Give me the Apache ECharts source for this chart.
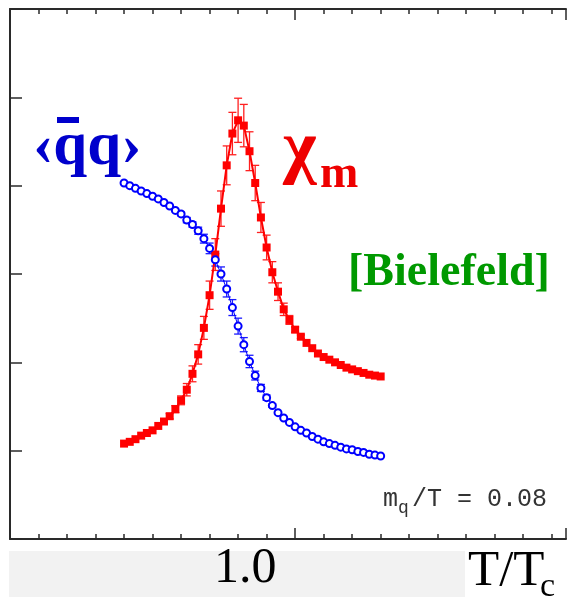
<!DOCTYPE html>
<html>
<head>
<meta charset="utf-8">
<script src="https://cdn.jsdelivr.net/npm/echarts@6/dist/echarts.min.js"></script>
<style>
  html, body { margin: 0; padding: 0; background: #fff; }
  #chart { width: 569px; height: 597px; }
</style>
</head>
<body>
<div id="chart"></div>
<script>
// T/Tc values of the measured points
var temps = [
  0.880, 0.884, 0.888, 0.892, 0.896, 0.900, 0.904, 0.908, 0.912, 0.916,
  0.920, 0.924, 0.928, 0.932, 0.936, 0.940, 0.944, 0.948, 0.952, 0.956,
  0.960, 0.964, 0.968, 0.972, 0.976, 0.980, 0.984, 0.988, 0.992, 0.996,
  1.000, 1.004, 1.008, 1.012, 1.016, 1.020, 1.024, 1.028, 1.032, 1.036,
  1.040, 1.044, 1.048, 1.052, 1.056, 1.060
];
// chiral susceptibility (red squares)
var chiM = [
  1.08, 1.10, 1.13, 1.17, 1.20, 1.23, 1.28, 1.33, 1.39, 1.47,
  1.57, 1.69, 1.87, 2.09, 2.39, 2.76, 3.22, 3.74, 4.23, 4.59,
  4.74, 4.68, 4.39, 4.03, 3.64, 3.30, 3.02, 2.80, 2.60, 2.48,
  2.37, 2.29, 2.22, 2.16, 2.10, 2.06, 2.03, 2.00, 1.97, 1.94,
  1.92, 1.90, 1.88, 1.86, 1.85, 1.84
];
var chiErr = [
  0, 0, 0, 0, 0, 0, 0, 0.02, 0.03, 0.04,
  0.05, 0.07, 0.09, 0.11, 0.13, 0.16, 0.18, 0.20, 0.22, 0.24,
  0.25, 0.24, 0.22, 0.20, 0.17, 0.14, 0.12, 0.10, 0.07, 0.05,
  0.03, 0.02, 0, 0, 0, 0, 0, 0, 0, 0,
  0, 0, 0, 0, 0, 0
];
// chiral condensate (blue circles)
var pbp = [
  4.03, 4.00, 3.97, 3.94, 3.91, 3.88, 3.85, 3.81, 3.77, 3.72,
  3.68, 3.61, 3.56, 3.49, 3.40, 3.29, 3.16, 3.00, 2.83, 2.62,
  2.41, 2.20, 2.01, 1.85, 1.71, 1.60, 1.51, 1.43, 1.37, 1.32,
  1.27, 1.23, 1.20, 1.16, 1.13, 1.10, 1.08, 1.06, 1.04, 1.02,
  1.01, 0.99, 0.98, 0.96, 0.95, 0.94
];
var pbpErr = [
  0, 0, 0, 0, 0, 0, 0, 0, 0, 0,
  0.02, 0.03, 0.03, 0.04, 0.05, 0.06, 0.07, 0.08, 0.09, 0.09,
  0.09, 0.08, 0.07, 0.05, 0.04, 0.03, 0.02, 0, 0, 0,
  0, 0, 0, 0, 0, 0, 0, 0, 0, 0,
  0, 0, 0, 0, 0, 0
];
var xLabels = [1.0];

function pts(vals) {
  return temps.map(function (t, i) { return [t, vals[i]]; });
}
function errPts(vals, errs) {
  return temps.map(function (t, i) { return [t, vals[i], errs[i]]; });
}
function errBars(color) {
  return function (params, api) {
    var e = api.value(2);
    if (!e) return;
    var x = api.value(0), y = api.value(1);
    var hi = api.coord([x, y + e]);
    var lo = api.coord([x, y - e]);
    var w = 4;
    var st = { stroke: color, lineWidth: 1.3 };
    return {
      type: 'group',
      children: [
        { type: 'line', shape: { x1: hi[0], y1: hi[1], x2: lo[0], y2: lo[1] }, style: st },
        { type: 'line', shape: { x1: hi[0] - w, y1: hi[1], x2: hi[0] + w, y2: hi[1] }, style: st },
        { type: 'line', shape: { x1: lo[0] - w, y1: lo[1], x2: lo[0] + w, y2: lo[1] }, style: st }
      ]
    };
  };
}

var axisLine = { show: true, onZero: false, lineStyle: { color: '#2a2a2a', width: 2 } };
var tickStyle = { color: '#2a2a2a', width: 1.5 };
var xMin = 0.8, xMax = 1.19;

// small ticks every 0.02, long ticks every 0.2 (separate overlaid axes)
function xAxisDef(pos, step, len, withLine, withLabel) {
  return {
    type: 'value', position: pos, min: xMin, max: xMax, interval: step,
    axisLine: withLine ? axisLine : { show: false, onZero: false },
    axisTick: { inside: true, length: len, lineStyle: tickStyle },
    splitLine: { show: false },
    axisLabel: withLabel ? {
      margin: 5,
      fontSize: 50,
      fontFamily: 'Liberation Serif',
      color: '#000',
      padding: [0, 100, 0, 0],
      formatter: function (v) {
        for (var k = 0; k < xLabels.length; k++) {
          if (Math.abs(v - xLabels[k]) < 1e-6) return xLabels[k].toFixed(1);
        }
        return '';
      }
    } : { show: false }
  };
}

var chart = echarts.init(document.getElementById('chart'));
chart.setOption({
  animation: false,
  backgroundColor: '#fff',
  grid: { left: 10, top: 9, right: 0, height: 530 },
  graphic: [
    { type: 'rect', z: -10, shape: { x: 9, y: 551, width: 456, height: 46 }, style: { fill: '#f2f2f2' } },
    { type: 'text', x: 33, y: 148, style: { text: '\u2039qq\u203a', font: 'bold 61px "Liberation Serif"', fill: '#0000cc', verticalAlign: 'middle' } },
    { type: 'rect', shape: { x: 57, y: 117, width: 22, height: 6 }, style: { fill: '#0000cc' } },
    { type: 'text', x: 283, y: 151, style: { text: '\u03c7', font: 'bold 72px "Liberation Serif"', fill: '#ee0000', verticalAlign: 'middle' } },
    { type: 'text', x: 320, y: 175, style: { text: 'm', font: 'bold 46px "Liberation Serif"', fill: '#ee0000', verticalAlign: 'middle' } },
    { type: 'text', x: 348, y: 273, style: { text: '[Bielefeld]', font: 'bold 46px "Liberation Serif"', fill: '#009900', verticalAlign: 'middle' } },
    { type: 'text', x: 383, y: 499, style: { text: 'm', font: '25px "Liberation Mono"', fill: '#333', verticalAlign: 'middle' } },
    { type: 'text', x: 398, y: 508, style: { text: 'q', font: '18px "Liberation Mono"', fill: '#333', verticalAlign: 'middle' } },
    { type: 'text', x: 412, y: 499, style: { text: '/T = 0.08', font: '25px "Liberation Mono"', fill: '#333', verticalAlign: 'middle' } },
    { type: 'text', x: 468, y: 572, style: { text: 'T/T', font: '51px "Liberation Serif"', fill: '#000', verticalAlign: 'middle' } },
    { type: 'text', x: 540, y: 587, style: { text: 'c', font: '34px "Liberation Serif"', fill: '#000', verticalAlign: 'middle' } }
  ],
  xAxis: [
    xAxisDef('bottom', 0.02, 5, true, true),
    xAxisDef('bottom', 0.2, 11, false, false),
    xAxisDef('top', 0.02, 5, true, false),
    xAxisDef('top', 0.2, 11, false, false)
  ],
  yAxis: {
    type: 'value', min: 0, max: 6, interval: 1,
    axisLine: axisLine,
    axisTick: { inside: true, length: 12, lineStyle: tickStyle },
    splitLine: { show: false },
    axisLabel: { show: false }
  },
  series: [
    {
      type: 'custom', xAxisIndex: 0, renderItem: errBars('#ff2020'),
      data: errPts(chiM, chiErr), z: 2
    },
    {
      type: 'line', xAxisIndex: 0, data: pts(chiM),
      symbol: 'rect', symbolSize: 8,
      itemStyle: { color: '#ff0000' },
      lineStyle: { color: '#ff0000', width: 2 }, z: 3
    },
    {
      type: 'custom', xAxisIndex: 0, renderItem: errBars('#1a1aff'),
      data: errPts(pbp, pbpErr), z: 2
    },
    {
      type: 'line', xAxisIndex: 0, data: pts(pbp),
      symbol: 'emptyCircle', symbolSize: 7,
      itemStyle: { color: '#0000ff', borderWidth: 1.5 },
      lineStyle: { color: '#0000ff', width: 1 }, z: 3
    }
  ]
});
</script>
</body>
</html>
